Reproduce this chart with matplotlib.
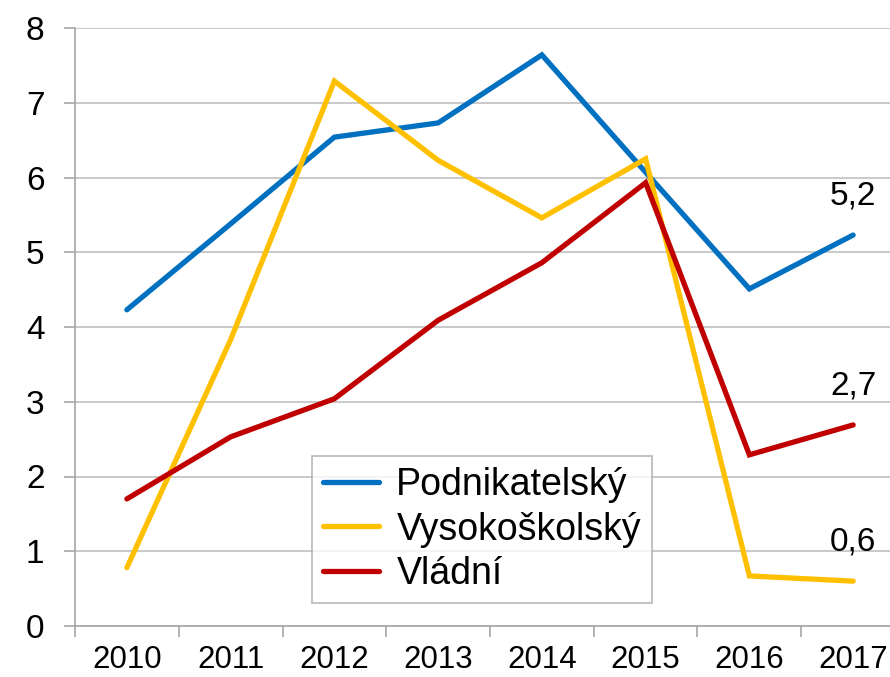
import matplotlib
matplotlib.use("Agg")
import matplotlib.pyplot as plt

plt.rcParams['font.family'] = ['Liberation Sans', 'DejaVu Sans']

years = ["2010", "2011", "2012", "2013", "2014", "2015", "2016", "2017"]
podnikatelsky = [4.23, 5.38, 6.54, 6.73, 7.64, 6.07, 4.51, 5.23]
vysokoskolsky = [0.78, 3.83, 7.29, 6.23, 5.46, 6.25, 0.67, 0.60]
vladni = [1.70, 2.53, 3.04, 4.09, 4.86, 5.93, 2.29, 2.69]
series_names = ["Podnikatelský", "Vysokoškolský", "Vládní"]
colors = ["#0070C0", "#FFC000", "#C00000"]
end_labels = ["5,2", "0,6", "2,7"]

fig = plt.figure(figsize=(8.9, 6.77), dpi=100)
ax = fig.add_axes([75/890, 51/677, 830/890, 598/677])

x = list(range(len(years)))
for vals, name, c, lab in zip([podnikatelsky, vysokoskolsky, vladni], series_names, colors, end_labels):
    ax.plot(x, vals, color=c, lw=3.8, label=name, solid_capstyle='round', solid_joinstyle='miter')
    ax.annotate(lab, (x[-1], vals[-1]), xytext=(0, 28), textcoords='offset points',
                ha='center', va='center', fontsize=24)

ax.set_xlim(-0.5, len(years) - 0.5)
ax.set_ylim(0, 8)
ax.set_yticks(range(0, 9))
ax.set_yticklabels([str(i) for i in range(0, 9)], fontsize=24)
ax.set_xticks(x)
ax.set_xticklabels(years, fontsize=22.5)
ax.set_xticks([i - 0.5 for i in range(len(years) + 1)], minor=True)
ax.tick_params(axis='x', which='major', length=0, pad=14)
ax.tick_params(axis='x', which='minor', length=8, width=1.2, color='#A6A6A6', direction='out')
ax.tick_params(axis='y', length=8, width=1.2, color='#A6A6A6', pad=14)

ax.grid(axis='y', color='#C0C0C0', lw=1.2)
ax.set_axisbelow(True)
for s in ['top', 'right']:
    ax.spines[s].set_visible(False)
for s in ['left', 'bottom']:
    ax.spines[s].set_color('#A6A6A6')
    ax.spines[s].set_linewidth(1.2)

leg = ax.legend(loc='lower left', bbox_to_anchor=((312-75)/830, (626-603)/598),
                borderaxespad=0, fontsize=27, frameon=True, fancybox=False,
                handlelength=1.5, handletextpad=0.45, labelspacing=0.22,
                borderpad=0.3, edgecolor='#A6A6A6')
leg.get_frame().set_linewidth(1.2)
for l in leg.get_lines():
    l.set_linewidth(3.8)

fig.savefig("out.png", dpi=100)
